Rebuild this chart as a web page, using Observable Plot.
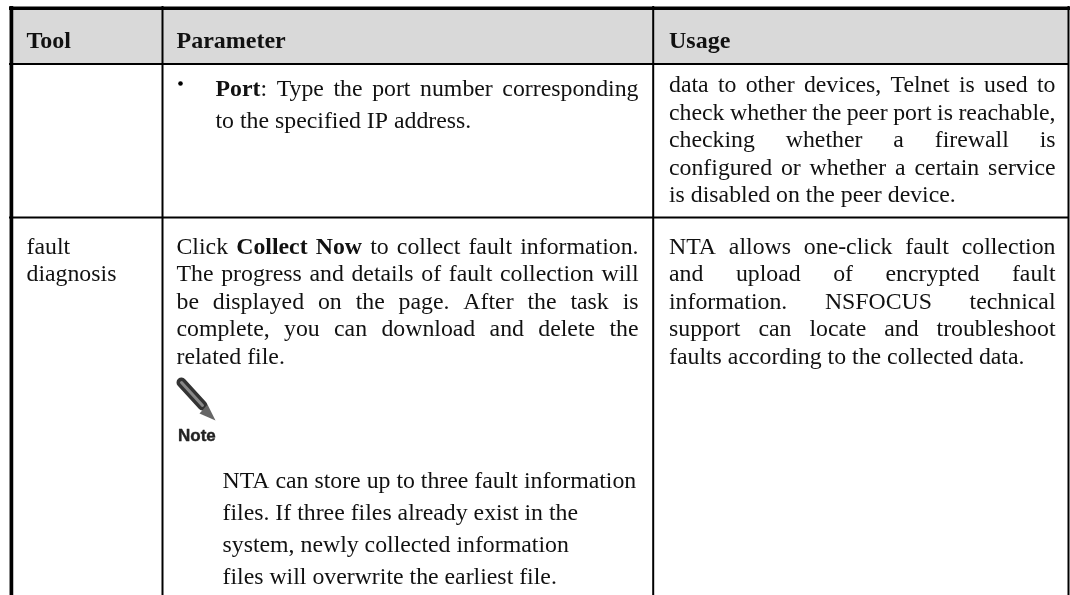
<!DOCTYPE html>
<html><head><meta charset="utf-8">
<script src="https://cdn.jsdelivr.net/npm/d3@7"></script>
<script src="https://cdn.jsdelivr.net/npm/@observablehq/plot@0.6"></script>
<style>html,body{margin:0;padding:0;background:#fff}svg{display:block;filter:blur(0.3px)}</style>
</head><body><div id="chart"></div>
<script>
const headers = ["Tool", "Parameter", "Usage"];
const columnRules = [162, 652.7, 1068];
const rowRules = [63.5, 217];
const toolLines = ["fault", "diagnosis"];
const toolBaselines = [251, 278];
const portLines = ["**Port**: Type the port number corresponding", "to the specified IP address."];
const portBaselines = [93, 125];
const usageTopLines = ["data to other devices, Telnet is used to", "check whether the peer port is reachable,", "checking whether a firewall is", "configured or whether a certain service", "is disabled on the peer device."];
const usageTopBaselines = [89, 117, 144, 172, 199];
const clickLines = ["Click **Collect** **Now** to collect fault information.", "The progress and details of fault collection will", "be displayed on the page. After the task is", "complete, you can download and delete the", "related file."];
const clickBaselines = [251, 278, 306, 333, 361];
const usageBottomLines = ["NTA allows one-click fault collection", "and upload of encrypted fault", "information. NSFOCUS technical", "support can locate and troubleshoot", "faults according to the collected data."];
const usageBottomBaselines = [251, 278, 306, 333, 361];
const noteLines = ["NTA can store up to three fault information", "files. If three files already exist in the", "system, newly collected information", "files will overwrite the earliest file."];
const noteBaselines = [485, 517, 549, 581];
const FONT = "Liberation Serif", SIZE = 23.8;

const ctx = document.createElement("canvas").getContext("2d");
const measure = (s, bold) => { ctx.font = `${bold ? "bold " : ""}${SIZE}px "${FONT}"`; return ctx.measureText(s).width; };
function layout(lines, baselines, left, right, justifyCount) {
  const out = [];
  lines.forEach((line, i) => {
    const words = line.split(" ").map(w => {
      const m = w.match(/^\*\*(.+)\*\*(.*)$/);
      return m ? {parts: [[m[1], true], ...(m[2] ? [[m[2], false]] : [])]} : {parts: [[w, false]]};
    });
    words.forEach(w => w.width = d3.sum(w.parts, p => measure(p[0], p[1])));
    const total = d3.sum(words, w => w.width);
    const gap = i < justifyCount && words.length > 1 ? (right - left - total) / (words.length - 1) : measure(" ", false);
    let x = left;
    for (const w of words) {
      let px = x;
      for (const [text, bold] of w.parts) { out.push({x: px, y: baselines[i], text, bold}); px += measure(text, bold); }
      x += w.width + gap;
    }
  });
  return out;
}
const words = [
  ...layout(toolLines, toolBaselines, 26, 150, 0),
  ...layout(portLines, portBaselines, 215, 638, 1),
  ...layout(usageTopLines, usageTopBaselines, 668.5, 1055, 4),
  ...layout(clickLines, clickBaselines, 176, 638, 4),
  ...layout(usageBottomLines, usageBottomBaselines, 668.5, 1055, 4),
  ...layout(noteLines, noteBaselines, 222, 640, 0)
];
const headerCells = headers.map((text, i) => ({text, x: [26, 176, 668.5][i], y: 45}));
const pencilBody = [{x: 181, y: 382}, {x: 202, y: 405}];
const pencilTip = [{x: 207, y: 404}, {x: 215, y: 420}, {x: 199, y: 413}];
const textBase = {x: "x", y: "y", text: "text", textAnchor: "start", lineAnchor: "bottom", dy: 2, fontFamily: FONT, fill: "#111"};

const plot = Plot.plot({
  width: 1070, height: 595, margin: 0,
  x: {domain: [0, 1070], range: [0, 1070], axis: null},
  y: {domain: [0, 595], range: [0, 595], axis: null},
  style: {background: "#fff"},
  marks: [
    Plot.rect([{}], {x1: 10, x2: 1068, y1: 8, y2: 63.5, fill: "#d9d9d9"}),
    Plot.ruleY([7.7], {x1: 9, x2: 1070, stroke: "#000", strokeWidth: 3.4}),
    Plot.ruleY(rowRules, {x1: 9, x2: 1069, stroke: "#000", strokeWidth: 2}),
    Plot.ruleX([10.9], {y1: 6, y2: 595, stroke: "#000", strokeWidth: 3.7}),
    Plot.ruleX(columnRules, {y1: 6, y2: 595, stroke: "#000", strokeWidth: 2}),
    Plot.text(headerCells, {...textBase, fontWeight: "bold", fontSize: 24}),
    Plot.text(words.filter(d => !d.bold), {...textBase, fontSize: SIZE}),
    Plot.text(words.filter(d => d.bold), {...textBase, fontWeight: "bold", fontSize: SIZE}),
    Plot.dot([{x: 180, y: 83}], {x: "x", y: "y", r: 2.3, fill: "#000"}),
    Plot.line(pencilBody, {x: "x", y: "y", stroke: "#333", strokeWidth: 10}),
    Plot.line(pencilBody, {x: "x", y: "y", stroke: "#888", strokeWidth: 3}),
    Plot.line(pencilTip, {x: "x", y: "y", stroke: "none", fill: "#666"}),
    Plot.text([{x: 177.5, y: 440, text: "Note"}], {x: "x", y: "y", text: "text", textAnchor: "start", lineAnchor: "bottom", fontFamily: "Liberation Sans", fontWeight: "bold", fontSize: 17, fill: "#222", stroke: "#222", strokeWidth: 0.4})
  ]
});
document.getElementById("chart").append(plot);
</script></body></html>
